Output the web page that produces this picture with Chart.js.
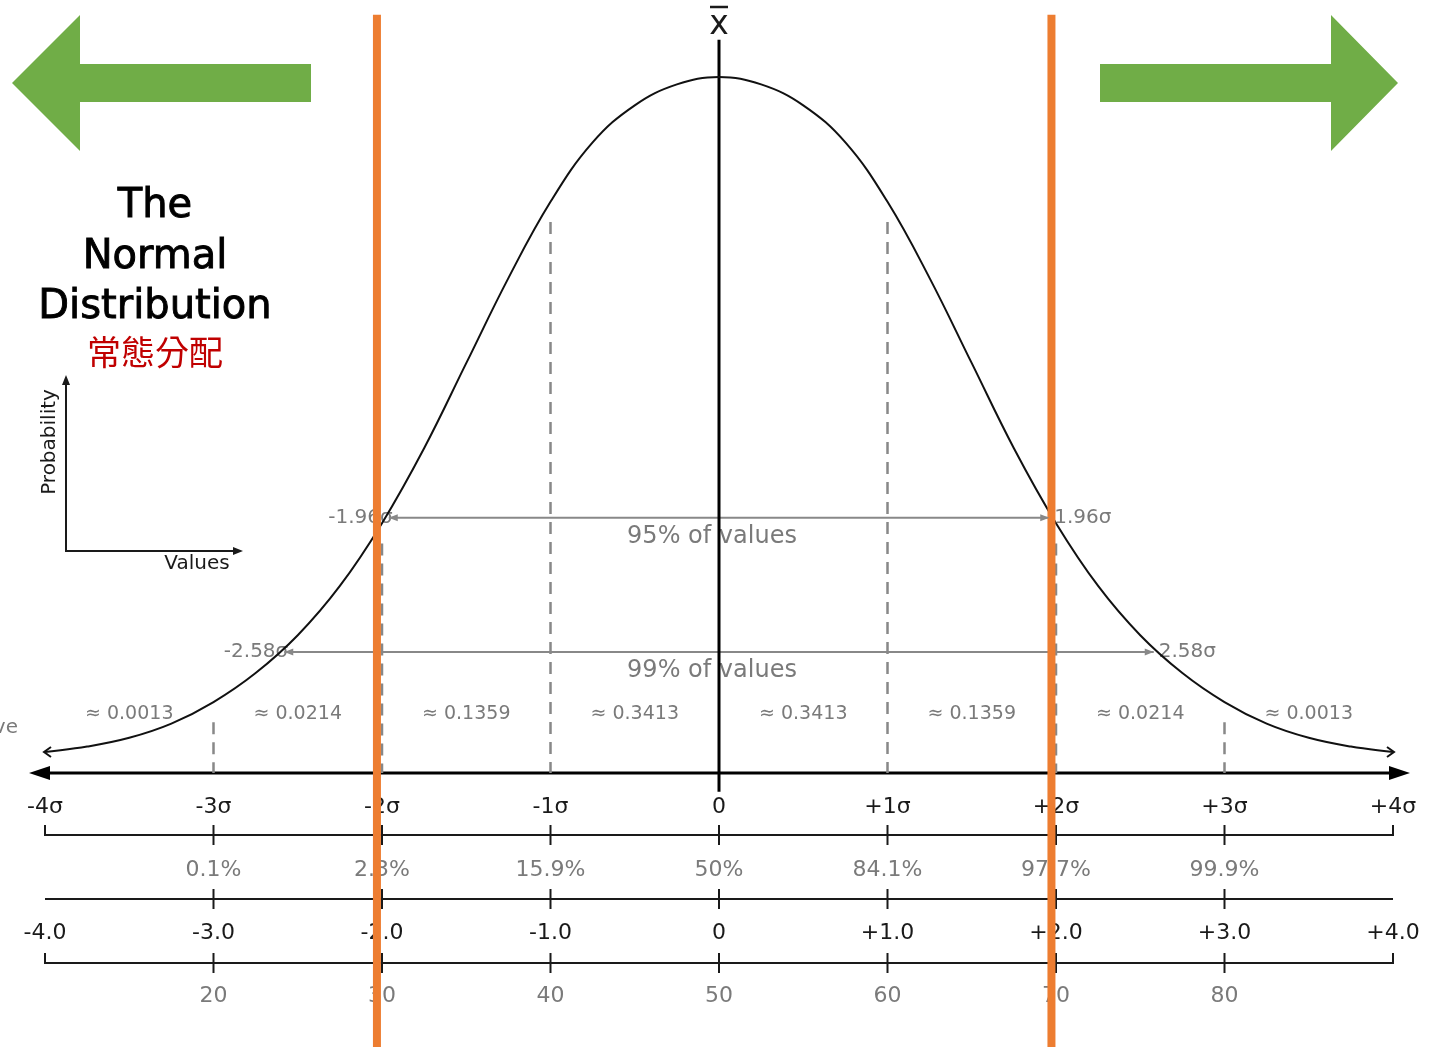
<!DOCTYPE html>
<html>
<head>
<meta charset="utf-8">
<title>The Normal Distribution</title>
<script src="https://cdn.jsdelivr.net/npm/chart.js@4.4.1/dist/chart.umd.min.js"></script>
<style>
  html, body { margin: 0; padding: 0; background: #fff; }
  #wrap { width: 1429px; height: 1047px; }
</style>
</head>
<body>
<div id="wrap"><canvas id="normalChart" width="1429" height="1047"></canvas></div>
<script>
// curve (x in sigma, height relative to the peak)
const curveX = [-4, -3.75, -3.5, -3.25, -3, -2.75, -2.5, -2.25, -2, -1.75, -1.5, -1.25, -1, -0.75, -0.5, -0.25,
  0, 0.25, 0.5, 0.75, 1, 1.25, 1.5, 1.75, 2, 2.25, 2.5, 2.75, 3, 3.25, 3.5, 3.75, 4];
const curveY = [0, 0.008, 0.021, 0.042, 0.074, 0.117, 0.173, 0.246, 0.339, 0.450, 0.576, 0.702, 0.815, 0.903, 0.958, 0.989,
  1.0, 0.989, 0.958, 0.903, 0.815, 0.702, 0.576, 0.450, 0.339, 0.246, 0.173, 0.117, 0.074, 0.042, 0.021, 0.008, 0];

const sigmaPos = [-4, -3, -2, -1, 0, 1, 2, 3, 4];
const sigmaLabels = ['-4σ', '-3σ', '-2σ', '-1σ', '0', '+1σ', '+2σ', '+3σ', '+4σ'];
const zLabels = ['-4.0', '-3.0', '-2.0', '-1.0', '0', '+1.0', '+2.0', '+3.0', '+4.0'];
const innerPos = [-3, -2, -1, 0, 1, 2, 3];
const cumulativeLabels = ['0.1%', '2.3%', '15.9%', '50%', '84.1%', '97.7%', '99.9%'];
const scoreLabels = ['20', '30', '40', '50', '60', '70', '80'];
const areaPos = [-3.5, -2.5, -1.5, -0.5, 0.5, 1.5, 2.5, 3.5];
const areaLabels = ['≈ 0.0013', '≈ 0.0214', '≈ 0.1359', '≈ 0.3413', '≈ 0.3413', '≈ 0.1359', '≈ 0.0214', '≈ 0.0013'];
const dashedPos = [-3, -2, -1, 1, 2, 3];
const intervalZ = [1.96, 2.58];
const intervalHeight = [0.347, 0.148];
const intervalLabels = ['95% of values', '99% of values'];
const cutoffs = [-2.03, 1.973];

const Y_MIN = -0.437, Y_MAX = 1.114;
const AXIS_Y = -0.031;
const GRAY = '#7a7a7a';
const INK = '#1a1a1a';
const FONT = '"DejaVu Sans", sans-serif';

function curveAt(x) {
  return curveY[curveX.indexOf(x)];
}

const datasets = [];
// orange cut-off lines (on top)
cutoffs.forEach(c => {
  datasets.push({ data: [{ x: c, y: 1.092 }, { x: c, y: Y_MIN }], borderColor: '#ed7d31', borderWidth: 8 });
});
// the curve
datasets.push({
  data: curveX.map((x, i) => ({ x: x, y: curveY[i] })),
  borderColor: '#111', borderWidth: 2, tension: 0.4
});
// mean line
datasets.push({ data: [{ x: 0, y: 1.055 }, { x: 0, y: -0.059 }], borderColor: '#000', borderWidth: 3 });
// dashed sigma lines
dashedPos.forEach(d => {
  datasets.push({ data: [{ x: d, y: curveAt(d) - 0.03 }, { x: d, y: AXIS_Y }], borderColor: '#888', borderWidth: 2.5, borderDash: [12, 8] });
});
// 95% / 99% ranges
intervalZ.forEach((z, i) => {
  datasets.push({ data: [{ x: -z, y: intervalHeight[i] }, { x: z, y: intervalHeight[i] }], borderColor: '#888', borderWidth: 2 });
});
datasets.forEach(d => { d.showLine = true; d.pointRadius = 0; d.fill = false; });

function text(ctx, str, x, y, font, color, align, stroke) {
  ctx.font = font;
  ctx.fillStyle = color;
  ctx.textAlign = align || 'center';
  ctx.textBaseline = 'middle';
  ctx.fillText(str, x, y);
  if (stroke) {
    ctx.strokeStyle = color;
    ctx.lineWidth = stroke;
    ctx.strokeText(str, x, y);
  }
}

function hLine(ctx, x1, x2, y, w, color) {
  ctx.beginPath();
  ctx.strokeStyle = color;
  ctx.lineWidth = w;
  ctx.moveTo(x1, y);
  ctx.lineTo(x2, y);
  ctx.stroke();
}

function vLine(ctx, x, y1, y2, w, color) {
  ctx.beginPath();
  ctx.strokeStyle = color;
  ctx.lineWidth = w;
  ctx.moveTo(x, y1);
  ctx.lineTo(x, y2);
  ctx.stroke();
}

function triangle(ctx, pts, color) {
  ctx.beginPath();
  ctx.fillStyle = color;
  ctx.moveTo(pts[0][0], pts[0][1]);
  for (let i = 1; i < pts.length; i++) ctx.lineTo(pts[i][0], pts[i][1]);
  ctx.closePath();
  ctx.fill();
}

const diagramPlugin = {
  id: 'diagram',
  beforeDatasetsDraw(chart) {
    const ctx = chart.ctx;
    const xs = chart.scales.x, ys = chart.scales.y;
    const px = v => xs.getPixelForValue(v);
    const py = v => ys.getPixelForValue(v);
    ctx.save();

    // green arrows
    triangle(ctx, [[12, 83], [80, 15], [80, 64], [311, 64], [311, 102], [80, 102], [80, 151]], '#70ad47');
    triangle(ctx, [[1398, 83], [1331, 15], [1331, 64], [1100, 64], [1100, 102], [1331, 102], [1331, 151]], '#70ad47');

    // title block
    const tf = '40px ' + FONT;
    text(ctx, 'The', 155, 207, tf, '#000', 'center', 0.9);
    text(ctx, 'Normal', 155, 258, tf, '#000', 'center', 0.9);
    text(ctx, 'Distribution', 155, 308, tf, '#000', 'center', 0.9);
    text(ctx, '常態分配', 155, 352, '34px "Noto Sans CJK TC", sans-serif', '#c00000');

    // small probability / values axes
    vLine(ctx, 66, 552, 382, 2, INK);
    hLine(ctx, 65, 236, 551, 2, INK);
    triangle(ctx, [[66, 375], [62, 385], [70, 385]], INK);
    triangle(ctx, [[243, 551], [233, 547], [233, 555]], INK);
    ctx.save();
    ctx.translate(50, 442);
    ctx.rotate(-Math.PI / 2);
    text(ctx, 'Probability', 0, 0, '20px ' + FONT, INK);
    ctx.restore();
    text(ctx, 'Values', 197, 564, '20px ' + FONT, INK);

    // mean symbol
    text(ctx, 'x', px(0), 25, '33px ' + FONT, INK);
    hLine(ctx, px(0) - 9, px(0) + 9, 7, 2.5, INK);

    // cut off label on the far left
    text(ctx, 'curve', 18, 728, '20px ' + FONT, GRAY, 'right');

    // interval labels
    const f20 = '20px ' + FONT;
    intervalZ.forEach((z, i) => {
      const y = py(intervalHeight[i]);
      text(ctx, '-' + z.toFixed(2) + 'σ', px(-z) + 4, y, f20, GRAY, 'right');
      text(ctx, z.toFixed(2) + 'σ', px(z) + 5, y, f20, GRAY, 'left');
      text(ctx, intervalLabels[i], px(0) - 7, y + 19, '24px ' + FONT, GRAY);
    });

    // area labels
    areaPos.forEach((a, i) => text(ctx, areaLabels[i], px(a), 714, '19px ' + FONT, GRAY));

    // main axis
    const ay = py(AXIS_Y);
    hLine(ctx, 42, 1398, ay, 3, '#000');
    triangle(ctx, [[29, ay], [50, ay - 7], [50, ay + 7]], '#000');
    triangle(ctx, [[1410, ay], [1389, ay - 7], [1389, ay + 7]], '#000');

    // scale rows
    const f22 = '22px ' + FONT;
    sigmaPos.forEach((s, i) => text(ctx, sigmaLabels[i], px(s), 807, f22, INK));
    hLine(ctx, px(-4), px(4), 835, 2, INK);
    vLine(ctx, px(-4), 825, 836, 2, INK);
    vLine(ctx, px(4), 825, 836, 2, INK);
    innerPos.forEach(s => vLine(ctx, px(s), 825, 845, 2, INK));

    innerPos.forEach((s, i) => text(ctx, cumulativeLabels[i], px(s), 870, f22, GRAY));
    hLine(ctx, px(-4), px(4), 899, 2, INK);
    innerPos.forEach(s => vLine(ctx, px(s), 889, 909, 2, INK));

    sigmaPos.forEach((s, i) => text(ctx, zLabels[i], px(s), 933, f22, INK));
    hLine(ctx, px(-4), px(4), 963, 2, INK);
    vLine(ctx, px(-4), 953, 964, 2, INK);
    vLine(ctx, px(4), 953, 964, 2, INK);
    innerPos.forEach(s => vLine(ctx, px(s), 953, 973, 2, INK));

    innerPos.forEach((s, i) => text(ctx, scoreLabels[i], px(s), 996, f22, GRAY));
    ctx.restore();
  },
  afterDatasetsDraw(chart) {
    const ctx = chart.ctx;
    const xs = chart.scales.x, ys = chart.scales.y;
    const px = v => xs.getPixelForValue(v);
    const py = v => ys.getPixelForValue(v);
    ctx.save();
    // arrow tips of the range lines
    intervalZ.forEach((z, i) => {
      const y = py(intervalHeight[i]);
      triangle(ctx, [[px(-z), y], [px(-z) + 9, y - 3.5], [px(-z) + 9, y + 3.5]], '#888');
      triangle(ctx, [[px(z), y], [px(z) - 9, y - 3.5], [px(z) - 9, y + 3.5]], '#888');
    });
    // open arrow tips at the ends of the curve
    const cy = py(curveY[0]);
    ctx.strokeStyle = '#111';
    ctx.lineWidth = 2;
    ctx.beginPath();
    ctx.moveTo(px(-4) + 6, cy - 5); ctx.lineTo(px(-4) - 1, cy); ctx.lineTo(px(-4) + 6, cy + 5);
    ctx.moveTo(px(4) - 6, cy - 5); ctx.lineTo(px(4) + 1, cy); ctx.lineTo(px(4) - 6, cy + 5);
    ctx.stroke();
    ctx.restore();
  }
};

new Chart(document.getElementById('normalChart'), {
  type: 'scatter',
  data: { datasets: datasets },
  options: {
    responsive: false,
    animation: false,
    devicePixelRatio: 1,
    layout: { padding: { left: 45, right: 36, top: 0, bottom: 0 } },
    plugins: { legend: { display: false }, tooltip: { enabled: false } },
    elements: { line: { clip: false } },
    scales: {
      x: { type: 'linear', min: -4, max: 4, display: false },
      y: { type: 'linear', min: Y_MIN, max: Y_MAX, display: false }
    }
  },
  plugins: [diagramPlugin]
});
</script>
</body>
</html>
